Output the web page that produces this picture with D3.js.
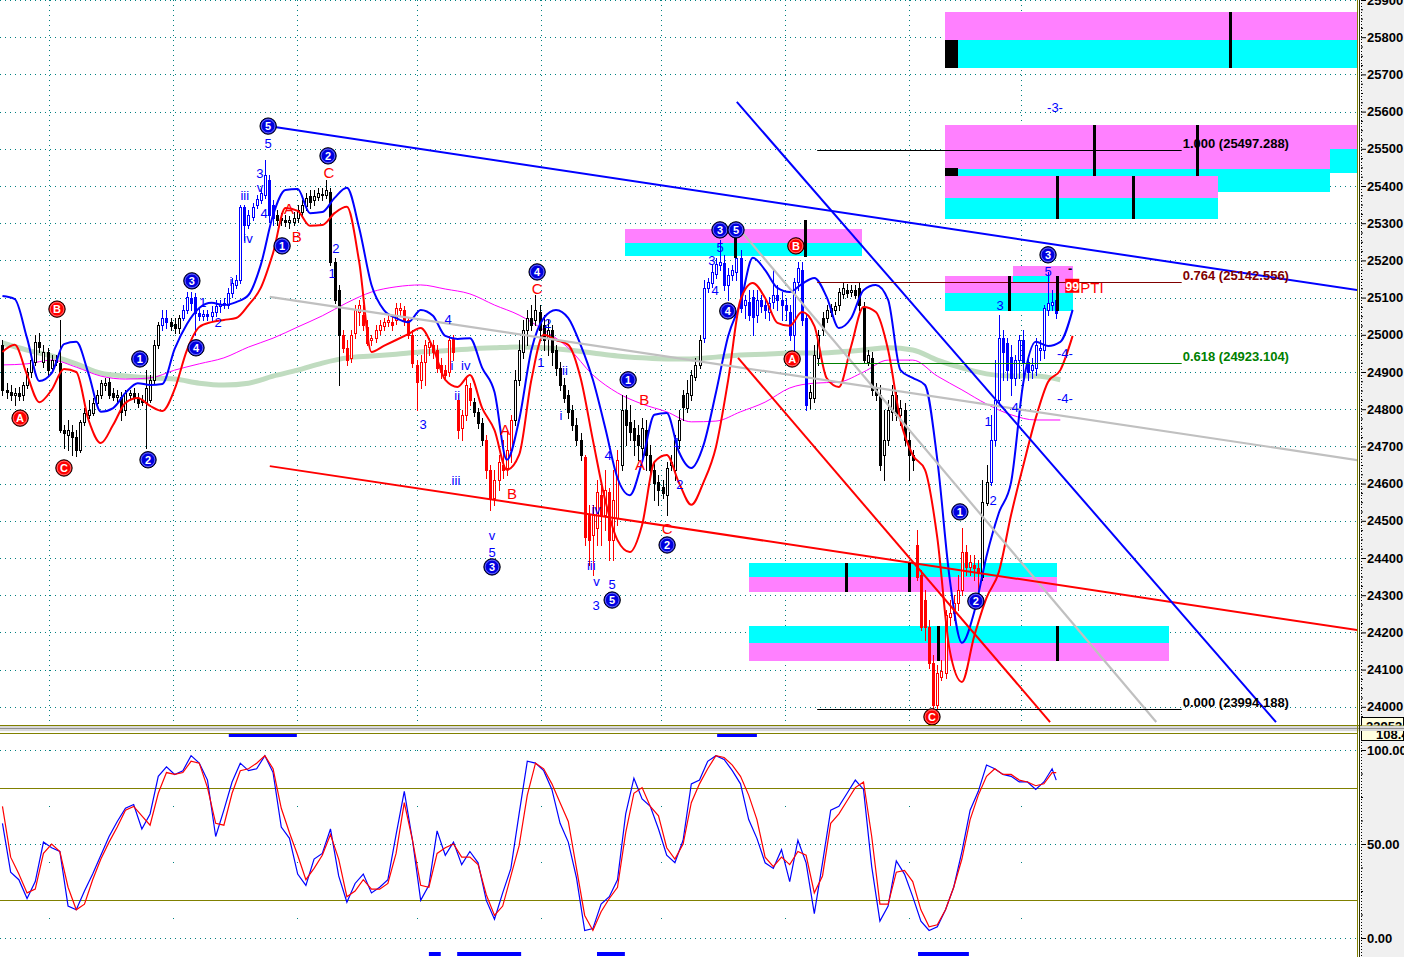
<!DOCTYPE html>
<html><head><meta charset="utf-8">
<script src="https://cdn.jsdelivr.net/npm/d3@7/dist/d3.min.js"></script>
<style>html,body{margin:0;padding:0;background:#fff;overflow:hidden}svg{display:block}</style>
</head><body><svg id="chart" width="1404" height="957"></svg>
<script>
// ---------- DATA ----------
const openP=[24973,24852,24846,24838,24844,24838,24865,24900,24927,24981,
24927,24954,24911,24932,24924,24744,24731,24739,24725,24690,
24766,24785,24790,24817,24838,24865,24873,24844,24833,24833,
24798,24838,24844,24830,24825,24819,24825,24879,24973,25026,
25045,25034,25029,25018,25045,25066,25099,25102,25059,25051,
25056,25051,25061,25077,25083,25080,25112,25134,25147,25344,
25295,25317,25349,25362,25376,25416,25349,25322,25314,25309,
25303,25303,25314,25330,25346,25373,25362,25370,25378,25376,
25384,25196,25120,25000,24965,24938,25005,25061,25053,25021,
24986,24991,25013,25024,25034,25034,25040,25066,25066,25040,
25000,24919,24879,24927,24967,24973,24959,24919,24905,24900,
24991,24825,24750,24785,24857,24819,24793,24763,24717,24636,
24561,24610,24650,24642,24690,24771,24879,24954,25013,25045,
25040,25061,25026,24991,25013,24959,24911,24865,24838,24798,
24758,24717,24672,24516,24462,24481,24570,24516,24578,24448,
24508,24650,24798,24766,24750,24731,24696,24744,24677,24636,
24604,24591,24570,24650,24636,24717,24838,24803,24838,24887,
24919,24991,25126,25139,25163,25188,25193,25134,25161,25169,
25207,25080,25088,25102,25053,25094,25080,25061,25088,25107,
25094,25080,25061,25000,25142,25174,25045,24830,24830,24938,
25045,25045,25061,25066,25080,25110,25120,25115,25120,25126,
25075,24927,24938,24857,24838,24677,24717,24793,24838,24785,
24798,24717,24677,24435,24354,24287,24215,24118,24005,24080,
24091,24242,24252,24279,24314,24416,24376,24381,24373,24349,
24548,24604,24717,24825,24991,24978,24940,24884,24932,24986,
24927,24905,24911,24959,24959,25066,25080,25094];
const highP=[24986,24870,24865,24857,24860,24873,24911,24946,25000,25005,
24973,24965,24946,24946,25040,24758,24771,24758,24744,24771,
24803,24825,24830,24852,24879,24884,24884,24857,24852,24846,
24852,24852,24857,24844,24838,24905,24892,24986,25034,25066,
25066,25045,25045,25053,25080,25115,25115,25112,25072,25066,
25066,25077,25094,25094,25099,25126,25153,25161,25349,25349,
25336,25354,25376,25395,25470,25430,25362,25336,25327,25322,
25319,25330,25349,25362,25381,25389,25389,25395,25395,25416,
25395,25207,25134,25013,24986,25013,25080,25094,25080,25040,
25000,25026,25040,25045,25053,25051,25086,25086,25077,25045,
25013,24932,24946,24986,24991,24986,24973,24938,24919,24997,
25000,24838,24798,24884,24870,24830,24803,24776,24731,24650,
24636,24677,24717,24744,24785,24905,24986,25040,25066,25080,
25107,25080,25053,25040,25026,24973,24927,24884,24852,24811,
24776,24736,24677,24543,24543,24610,24596,24636,24588,24636,
24690,24838,24838,24811,24771,24758,24776,24771,24704,24658,
24623,24610,24658,24677,24731,24798,24852,24879,24905,24938,
25000,25147,25153,25188,25207,25255,25215,25180,25188,25268,
25228,25107,25120,25120,25120,25107,25094,25102,25174,25134,
25115,25099,25080,25153,25196,25196,25053,24865,24973,25013,
25061,25080,25083,25088,25126,25139,25137,25134,25134,25139,
25088,24959,24954,24870,24865,24798,24825,24865,24852,24825,
24817,24739,24690,24475,24368,24314,24233,24139,24112,24126,
24260,24287,24301,24354,24481,24435,24408,24408,24395,24610,
24650,24785,24932,25053,25013,24991,24973,24946,25000,25013,
24946,24938,24991,24986,25080,25169,25120,25142];
const lowP=[24838,24830,24825,24811,24825,24825,24857,24887,24919,24954,
24913,24892,24900,24919,24739,24696,24690,24677,24674,24685,
24758,24776,24785,24811,24830,24852,24830,24825,24819,24771,
24785,24830,24819,24806,24811,24696,24819,24870,24965,25013,
25018,25013,25005,25005,25040,25059,25066,25000,25040,25040,
25040,25040,25051,25061,25072,25072,25102,25126,25139,25255,
25287,25309,25341,25354,25368,25303,25295,25295,25295,25293,
25287,25295,25303,25319,25336,25341,25349,25362,25362,25368,
25188,25086,24865,24954,24919,24927,24991,25026,25013,24973,
24973,24981,25002,25013,25024,25013,25029,25051,25026,24991,
24913,24798,24857,24865,24946,24938,24900,24884,24879,24889,
24932,24723,24717,24771,24811,24782,24750,24704,24615,24529,
24543,24583,24615,24623,24658,24758,24865,24938,24973,25013,
25026,24986,24959,24946,24919,24892,24852,24819,24776,24744,
24704,24664,24435,24381,24354,24435,24435,24475,24395,24395,
24489,24636,24704,24717,24677,24664,24664,24636,24623,24556,
24543,24561,24516,24636,24610,24696,24771,24793,24825,24879,
24911,24981,25115,25129,25153,25174,25120,25094,25147,25147,
25061,25045,25040,25000,25034,25061,25045,25040,25072,25066,
25040,25040,24986,24946,25120,25026,24798,24803,24819,24919,
25000,25034,25051,25056,25066,25099,25102,25104,25099,25066,
24927,24919,24838,24825,24636,24610,24704,24771,24771,24758,
24704,24610,24636,24341,24207,24180,24104,23994,23997,24072,
24078,24220,24233,24260,24301,24354,24354,24341,24314,24341,
24543,24596,24704,24811,24879,24879,24838,24865,24884,24865,
24879,24884,24892,24932,24938,25053,25066,25045];
const closeP=[24852,24846,24838,24844,24836,24865,24900,24932,24981,24967,
24954,24905,24932,24927,24744,24736,24744,24725,24690,24766,
24790,24798,24817,24838,24870,24870,24838,24833,24838,24793,
24844,24844,24830,24817,24819,24857,24879,24973,25026,25045,
25034,25024,25018,25045,25066,25102,25086,25059,25051,25056,
25051,25061,25077,25083,25086,25112,25139,25147,25344,25295,
25322,25344,25365,25381,25430,25322,25314,25309,25309,25303,
25309,25314,25336,25349,25368,25357,25373,25381,25376,25389,
25196,25094,25000,24965,24932,25000,25066,25080,25026,24978,
24991,25013,25026,25034,25040,25026,25072,25072,25040,25000,
24924,24873,24927,24973,24981,24954,24911,24900,24892,24986,
24954,24744,24785,24865,24825,24793,24763,24717,24636,24561,
24610,24658,24636,24690,24771,24879,24959,25013,25045,25026,
25066,25013,24986,25013,24954,24911,24865,24830,24793,24758,
24717,24677,24457,24448,24516,24578,24516,24583,24448,24556,
24664,24798,24758,24739,24717,24704,24750,24677,24636,24602,
24583,24575,24642,24658,24717,24771,24806,24844,24892,24919,
24986,25126,25142,25169,25190,25196,25134,25161,25174,25207,
25072,25094,25053,25048,25094,25077,25066,25086,25107,25094,
25080,25066,25000,25142,25180,25040,24811,24846,24946,25000,
25013,25066,25072,25077,25115,25126,25112,25120,25107,25080,
24932,24946,24852,24838,24650,24717,24798,24838,24785,24803,
24717,24677,24664,24349,24215,24215,24118,24005,24091,24096,
24247,24252,24279,24314,24416,24376,24389,24373,24362,24551,
24604,24717,24825,24991,24954,24905,24884,24932,24986,24924,
24900,24919,24973,24965,25072,25086,25088,25059];

// upper / lower bands, sampled every 3 bars (bar 0..261)
const blueBand=[25104,25096,24991,24876,24897,24975,24981,24895,24793,24803,
24844,24870,24865,24868,24962,25029,25072,25086,25080,25088,
25107,25188,25322,25389,25392,25327,25330,25368,25395,25287,
25134,25067,25045,25034,25067,25051,24997,24989,24991,24911,
24846,24664,24771,24959,25045,25067,25045,24973,24879,24750,
24615,24569,24658,24785,24790,24685,24642,24704,24844,24997,
25086,25207,25174,25126,25115,25137,25153,25102,25018,25045,
25120,25134,25094,24905,24884,24865,24664,24346,24172,24255,
24405,24521,24604,24873,24981,24970,24981,25067];
const redBand=[24954,24973,24892,24819,24852,24908,24900,24771,24709,24758,
24817,24830,24809,24795,24854,24959,25021,25034,25040,25045,
25080,25126,25220,25341,25333,25293,25295,25327,25344,25196,
24954,24970,24986,25002,25018,24965,24879,24860,24892,24803,
24744,24637,24677,24879,25000,24986,24973,24884,24717,24556,
24448,24416,24489,24658,24677,24602,24543,24604,24698,24879,
25094,25139,25099,25032,25024,25061,25024,24884,24860,24970,
25075,25061,24959,24771,24677,24637,24454,24153,24067,24190,
24293,24362,24516,24650,24776,24873,24905,24997];
// moving averages, sampled every 6 bars (bar 0..258)
const pinkMA=[24919,24922,24932,24913,24889,24881,24884,24905,24922,24938,
24967,24991,25021,25051,25086,25115,25129,25134,25123,25110,
25080,25053,25013,24965,24892,24844,24814,24793,24766,24768,
24793,24819,24857,24870,24873,24900,24932,24932,24889,24852,
24814,24785,24771,24771];
const greenMA=[24978,24959,24943,24922,24897,24889,24884,24881,24870,24865,
24870,24889,24905,24924,24938,24943,24948,24954,24957,24962,
24965,24967,24965,24959,24951,24943,24938,24935,24935,24940,
24946,24948,24951,24951,24954,24959,24965,24959,24932,24911,
24895,24889,24889,24879];
// stochastic %K / %D, every 2 bars (0..256) + last bar
const stochK=[61,35,31,21,30,51,48,46,17,15,
25,34,44,54,62,69,71,58,66,86,
91,87,89,97,93,84,54,68,83,93,
89,90,97,88,59,53,34,28,42,45,
58,33,19,29,34,24,27,31,55,78,
52,20,28,57,44,51,39,46,40,20,
10,24,37,66,94,93,89,79,61,51,
32,4,5,18,22,31,66,85,74,70,
58,44,40,52,82,84,94,97,95,89,
82,63,53,40,37,47,30,52,40,13,
40,68,70,77,84,79,38,9,17,41,
34,22,9,4,6,15,27,46,68,78,
92,90,87,86,83,83,79,83,90,84];
const stochD=[70,43,34,24,26,45,50,46,27,15,
18,31,42,51,59,68,70,65,60,77,
88,87,88,94,93,80,61,60,77,89,
90,93,97,90,69,56,44,31,37,44,
55,42,22,25,31,26,26,29,45,72,
52,28,27,45,48,50,43,43,39,23,
12,17,33,49,76,93,90,82,72,62,
37,12,4,14,21,27,56,77,80,70,
65,48,42,50,72,82,90,97,96,92,
86,76,63,43,38,43,39,46,44,24,
33,61,66,73,80,83,54,18,18,35,
36,30,15,6,7,15,27,42,63,76,
86,90,87,87,84,83,81,82,88,88];

const priceTicks=d3.range(24000,25901,100);
const stochTicks=[0,50,100];
const gridBars=[11.3,41.6,71.8,101.1,131.3,160.6,190.9,221.1,248.4];

const fibRatios=["1.000","0.764","0.618","0.000"];
const fibPrices=[25497.288,25142.556,24923.104,23994.188];
const fibSpan=[198.7,287.6];

// trend lines: [bar1, price1, bar2, price2]
const trendBlue=[[64.8,25561,330.6,25120],[179.1,25626,310.6,23959]];
const trendGray=[[65.2,25102,330.6,24663],[179.9,25282,281.4,23959]];
const trendRed=[[65.2,24647,330.6,24206],[179.4,24938,255.5,23959]];

// zones: [bar1, bar2, priceTop, priceBottom, kind]
const zones=[
 [229.9,330.6,25868,25792,"p"],[229.9,330.6,25792,25717,"c"],[229.9,233.0,25792,25717,"k"],
 [229.9,330.6,25564,25446,"p"],[323.8,330.6,25499,25435,"c"],[229.9,323.8,25446,25384,"c"],
 [229.9,233.0,25449,25427,"k"],[229.9,296.5,25427,25368,"p"],[229.9,296.5,25368,25311,"c"],
 [151.8,209.6,25284,25247,"p"],[151.8,209.6,25247,25212,"c"],
 [229.9,261.1,25158,25112,"p"],[229.9,261.1,25112,25064,"c"],[246.5,261.1,25185,25158,"p"],[246.5,255.5,25158,25142,"c"],
 [182.1,257.2,24387,24349,"c"],[182.1,257.2,24349,24308,"p"],
 [182.1,284.5,24217,24172,"c"],[182.1,284.5,24172,24123,"p"]];
// black marker bars: [bar, priceTop, priceBottom]
const markerBars=[[299.4,25868,25717],[266.2,25564,25427],[291.3,25564,25427],[257.2,25427,25311],[275.7,25427,25311],
 [178.7,25287,25207],[195.7,25309,25209],[245.5,25158,25064],[257.2,25158,25064],
 [205.7,24387,24308],[221.1,24387,24308],[228.2,24217,24123],[257.2,24217,24123]];

// wave labels: [bar, price, text, kind]  kind: B blue circle, R red circle, b blue text, r red text
const waveLabels=[
 [4.3,24776,"A","R"],[13.3,25069,"B","R"],[15.0,24642,"C","R"],[192.6,24935,"A","R"],[193.5,25239,"B","R"],[226.7,23973,"C","R"],
 [33.5,24935,"1","B"],[35.5,24664,"2","B"],[46.2,25145,"3","B"],[47.2,24965,"4","B"],[64.8,25561,"5","B"],[68.2,25239,"1","B"],
 [79.4,25481,"2","B"],[130.4,25169,"4","B"],[119.4,24376,"3","B"],[148.7,24287,"5","B"],[152.6,24879,"1","B"],[162.1,24435,"2","B"],
 [175.0,25282,"3","B"],[178.9,25282,"5","B"],[176.9,25064,"4","B"],[233.5,24524,"1","B"],[237.4,24284,"2","B"],[255.0,25215,"3","B"],
 [48.9,25088,"1","b"],[52.6,25034,"2","b"],[55.7,25145,"i","b"],[59.1,25376,"iii","b"],[59.9,25260,"iv","b"],[62.8,25397,"v","b"],
 [62.8,25435,"3","b"],[63.8,25327,"4","b"],[64.8,25516,"5","b"],[81.3,25233,"2","b"],[80.4,25166,"1","b"],[108.7,25042,"4","b"],
 [102.6,24760,"3","b"],[109.6,24919,"i","b"],[113.0,24919,"iv","b"],[110.9,24836,"ii","b"],[110.6,24610,"iii","b"],[119.4,24460,"v","b"],
 [119.4,24414,"5","b"],[131.3,24927,"1","b"],[133.0,25032,"2","b"],[137.2,24905,"ii","b"],[136.2,24784,"i","b"],[144.8,24532,"iv","b"],
 [143.6,24380,"iii","b"],[144.9,24336,"v","b"],[144.8,24274,"3","b"],[148.7,24330,"5","b"],[147.7,24677,"4","b"],[164.5,24712,"1","b"],
 [165.2,24599,"2","b"],[173.0,25201,"3","b"],[175.0,25236,"5","b"],[173.8,25120,"4","b"],[240.4,24768,"1","b"],[241.6,24556,"2","b"],
 [243.3,25080,"3","b"],[247.0,24806,"4","b"],[255.0,25171,"5","b"],[259.1,24951,"-4-","b"],[259.1,24830,"-4-","b"],[256.7,25612,"-3-","b"],
 [69.9,25338,"A","r"],[71.8,25263,"B","r"],[79.6,25437,"C","r"],[122.6,24744,"A","r"],[124.3,24572,"B","r"],[130.4,25123,"C","r"],
 [156.5,24825,"B","r"],[155.5,24650,"A","r"],[162.1,24478,"C","r"]];

const stochTopSignals=[[55.2,71.8],[174.3,184.0]];
const stochBottomSignals=[[104.0,106.9],[110.9,126.5],[145.0,151.8],[223.3,235.7]];

// ---------- DRAW ----------
const FONT='"Liberation Sans",Arial,sans-serif';
const NARROW='"Liberation Sans Narrow","Arial Narrow","Liberation Sans",sans-serif';
const svg=d3.select("#chart");
const x=d3.scaleLinear().domain([-0.6,330.6]).range([0,1358]);
const y=d3.scaleLinear().domain([25900,24000]).range([0,706.8]);
const ys=d3.scaleLinear().domain([0,100]).range([938,750]);
const px=v=>Math.round(v)+0.5;

const defs=svg.append("defs");
defs.append("clipPath").attr("id","cm").append("rect").attr("x",0).attr("y",0).attr("width",1357).attr("height",725);
defs.append("clipPath").attr("id","cs").append("rect").attr("x",0).attr("y",734).attr("width",1357).attr("height",223);
defs.append("clipPath").attr("id","cl1").append("rect").attr("x",1361).attr("y",716).attr("width",43).attr("height",9.5);
defs.append("clipPath").attr("id","cl2").append("rect").attr("x",1361).attr("y",731).attr("width",43).attr("height",10);

svg.append("rect").attr("width",1404).attr("height",957).attr("fill","#fff");
svg.append("rect").attr("x",1361).attr("y",0).attr("width",43).attr("height",957).attr("fill","#f0f0f0");

// ---- main panel ----
const g=svg.append("g").attr("clip-path","url(#cm)");
g.selectAll(".hg").data(priceTicks).join("line").attr("x1",0).attr("x2",1357)
 .attr("y1",d=>px(y(d))).attr("y2",d=>px(y(d))).attr("stroke","#008080").attr("stroke-dasharray","1,4");
g.selectAll(".vg").data(gridBars).join("line").attr("x1",d=>px(x(d))).attr("x2",d=>px(x(d)))
 .attr("y1",0).attr("y2",725).attr("stroke","#008080").attr("stroke-dasharray","1,4");

const zoneFill={p:"#ff80ff",c:"#00ffff",k:"#000000"};
g.selectAll(".zone").data(zones).join("rect")
 .attr("x",d=>Math.round(x(d[0]))).attr("width",d=>Math.round(x(d[1]))-Math.round(x(d[0])))
 .attr("y",d=>Math.round(y(d[2]))).attr("height",d=>Math.round(y(d[3]))-Math.round(y(d[2])))
 .attr("fill",d=>zoneFill[d[4]]);

const maBars=d3.range(0,259,6), bandBars=d3.range(0,262,3), stochBars=d3.range(0,257,2).concat([257]);
const mkLine=(bs,sc,curve)=>d3.line().x((d,k)=>x(bs[k])).y(d=>sc(d)).curve(curve||d3.curveMonotoneX);
g.append("path").attr("d",mkLine(maBars,y)(greenMA)).attr("fill","none").attr("stroke","#c0dcc0").attr("stroke-width",5);
g.append("path").attr("d",mkLine(maBars,y)(pinkMA)).attr("fill","none").attr("stroke","#ff00ff").attr("stroke-width",1);

// candles
const colorRanges=[[0,38,"#000"],[39,40,"#0000ff"],[41,43,"#000"],[44,66,"#0000ff"],[67,82,"#000"],[83,114,"#ff0000"],
 [115,117,"#000"],[118,124,"#ff0000"],[125,141,"#000"],[142,150,"#ff0000"],[151,170,"#000"],[171,196,"#0000ff"],
 [197,222,"#000"],[223,238,"#ff0000"],[239,240,"#000"],[241,257,"#0000ff"]];
const colorOf=i=>colorRanges.find(r=>i>=r[0]&&i<=r[1])[2];
const bars=closeP.map((c,i)=>({i,o:openP[i],h:highP[i],l:lowP[i],c}));
const cg=g.append("g");
cg.selectAll(".wick").data(bars).join("line")
 .attr("x1",d=>Math.round(x(d.i))+0.5).attr("x2",d=>Math.round(x(d.i))+0.5)
 .attr("y1",d=>Math.round(y(d.h))).attr("y2",d=>Math.round(y(d.l))+1).attr("stroke",d=>colorOf(d.i));
cg.selectAll(".body").data(bars).join("rect")
 .attr("x",d=>Math.round(x(d.i))-0.5).attr("width",2)
 .attr("y",d=>Math.round(y(Math.max(d.o,d.c)))+0.5)
 .attr("height",d=>Math.max(1,Math.round(y(Math.min(d.o,d.c)))-Math.round(y(Math.max(d.o,d.c)))))
 .attr("fill",d=>d.c>=d.o?"#fff":colorOf(d.i)).attr("stroke",d=>colorOf(d.i));

// bands
g.append("path").attr("d",mkLine(bandBars,y)(blueBand)).attr("fill","none").attr("stroke","#0000ff").attr("stroke-width",2);
g.append("path").attr("d",mkLine(bandBars,y)(redBand)).attr("fill","none").attr("stroke","#ff0000").attr("stroke-width",2);

// trend lines
const drawTrend=(arr,col,w)=>g.selectAll(null).data(arr).join("line")
 .attr("x1",d=>x(d[0])).attr("y1",d=>y(d[1])).attr("x2",d=>x(d[2])).attr("y2",d=>y(d[3]))
 .attr("stroke",col).attr("stroke-width",w);
drawTrend(trendGray,"#c0c0c0",2.2);
drawTrend(trendRed,"#ff0000",2);
drawTrend(trendBlue,"#0000ff",2);

// fib
const fibColors=["#000","#800000","#008000","#000"];
fibPrices.forEach((p,k)=>{
  g.append("line").attr("x1",x(fibSpan[0])).attr("x2",x(fibSpan[1])).attr("y1",px(y(p))).attr("y2",px(y(p)))
   .attr("stroke",fibColors[k]).attr("stroke-width",1);
  g.append("text").attr("x",x(fibSpan[1])+1).attr("y",y(p)-2).attr("font-family",NARROW).attr("font-weight","bold")
   .attr("font-size",13).attr("fill",fibColors[k]).text(fibRatios[k]+" ("+p.toFixed(3)+")");
});

// marker bars
g.selectAll(".mb").data(markerBars).join("rect")
 .attr("x",d=>Math.round(x(d[0]))-1).attr("width",3)
 .attr("y",d=>Math.round(y(d[1]))).attr("height",d=>Math.round(y(d[2]))-Math.round(y(d[1])))
 .attr("fill","#000");

// 99PTI
const ptiY=y(fibPrices[1]);
g.append("rect").attr("x",x(259.2)).attr("y",ptiY-3).attr("width",14).attr("height",14).attr("fill","#ff0000");
g.append("text").attr("x",x(259.2)+7).attr("y",ptiY+9).attr("text-anchor","middle").attr("font-family",FONT)
 .attr("font-weight","bold").attr("font-size",12).attr("fill","#fff").text("99");
g.append("text").attr("x",x(259.2)+15).attr("y",ptiY+11).attr("font-family",FONT).attr("font-size",15).attr("fill","#ff0000").text("PTI");
g.append("text").attr("x",x(260.4)).attr("y",y(25174)+3).attr("text-anchor","middle").attr("font-family",FONT)
 .attr("font-weight","bold").attr("font-size",13).attr("fill","#000").text("-");

// wave labels
const wl=g.append("g");
waveLabels.forEach(d=>{
  const cx=x(d[0]), cy=y(d[1]);
  if(d[3]==="B"||d[3]==="R"){
    wl.append("circle").attr("cx",cx).attr("cy",cy).attr("r",8.2).attr("fill",d[3]==="B"?"#0000e0":"#ff0000").attr("stroke","#000").attr("stroke-width",1);
    wl.append("circle").attr("cx",cx).attr("cy",cy).attr("r",6.8).attr("fill","none").attr("stroke","#fff").attr("stroke-width",0.7).attr("opacity",0.6);
    wl.append("text").attr("x",cx).attr("y",cy).attr("dy","0.36em").attr("text-anchor","middle").attr("font-family",FONT)
      .attr("font-weight","bold").attr("font-size",11).attr("fill","#fff").text(d[2]);
  } else {
    wl.append("text").attr("x",cx).attr("y",cy).attr("dy","0.36em").attr("text-anchor","middle").attr("font-family",FONT)
      .attr("font-size",d[3]==="r"?15:13).attr("fill",d[3]==="r"?"#ff0000":"#0000ff").text(d[2]);
  }
});

// ---- separator ----
svg.append("line").attr("x1",0).attr("x2",1404).attr("y1",725.5).attr("y2",725.5).attr("stroke","#808000");
svg.append("g").attr("clip-path","url(#cl1)").call(s=>{
  s.append("rect").attr("x",1361.5).attr("y",717.5).attr("width",42).attr("height",12).attr("fill","#ffffe0").attr("stroke","#000");
  s.append("text").attr("x",1366).attr("y",731).attr("font-family",FONT).attr("font-weight","bold").attr("font-size",13).text("23953");
});
svg.append("rect").attr("x",0).attr("y",726).attr("width",1404).attr("height",6).attr("fill","#d8d8d8");
svg.append("line").attr("x1",0).attr("x2",1404).attr("y1",728.5).attr("y2",728.5).attr("stroke","#909090");
svg.append("line").attr("x1",0).attr("x2",1404).attr("y1",731.5).attr("y2",731.5).attr("stroke","#f8f8f8");
svg.append("line").attr("x1",0).attr("x2",1357).attr("y1",733.5).attr("y2",733.5).attr("stroke","#808000");
svg.append("g").attr("clip-path","url(#cl2)").call(s=>{
  s.append("rect").attr("x",1361.5).attr("y",730.5).attr("width",42).attr("height",10).attr("fill","#ffffe0").attr("stroke","#000");
  s.append("text").attr("x",1376).attr("y",739).attr("font-family",FONT).attr("font-weight","bold").attr("font-size",13).text("108.4");
});

// ---- stochastic panel ----
const sg=svg.append("g").attr("clip-path","url(#cs)");
sg.selectAll(".shg").data(stochTicks).join("line").attr("x1",0).attr("x2",1357)
 .attr("y1",d=>px(ys(d))).attr("y2",d=>px(ys(d))).attr("stroke","#008080").attr("stroke-dasharray","1,4");
sg.selectAll(".svg").data(gridBars).join("line").attr("x1",d=>px(x(d))).attr("x2",d=>px(x(d)))
 .attr("y1",734).attr("y2",957).attr("stroke","#008080").attr("stroke-dasharray","1,55").attr("stroke-dashoffset",-16);
sg.selectAll(".lvl").data([80,20]).join("line").attr("x1",0).attr("x2",1357)
 .attr("y1",d=>px(ys(d))).attr("y2",d=>px(ys(d))).attr("stroke","#808000").attr("stroke-width",1.2);
sg.append("path").attr("d",mkLine(stochBars,ys,d3.curveLinear)(stochK)).attr("fill","none").attr("stroke","#0000ff").attr("stroke-width",1.2);
sg.append("path").attr("d",mkLine(stochBars,ys,d3.curveLinear)(stochD)).attr("fill","none").attr("stroke","#ff0000").attr("stroke-width",1.2);
sg.selectAll(".sst").data(stochTopSignals).join("rect").attr("x",d=>x(d[0])).attr("width",d=>x(d[1])-x(d[0]))
 .attr("y",734).attr("height",3).attr("fill","#0000ff");
sg.selectAll(".ssb").data(stochBottomSignals).join("rect").attr("x",d=>x(d[0])).attr("width",d=>x(d[1])-x(d[0]))
 .attr("y",952).attr("height",4).attr("fill","#0000ff");

// ---- axes ----
svg.append("line").attr("x1",1357.5).attr("x2",1357.5).attr("y1",0).attr("y2",957).attr("stroke","#808000");
svg.append("line").attr("x1",1359.5).attr("x2",1359.5).attr("y1",0).attr("y2",957).attr("stroke","#303000");
svg.append("line").attr("x1",1361.5).attr("x2",1361.5).attr("y1",0).attr("y2",724).attr("stroke","#000").attr("stroke-dasharray","1,2");
svg.append("line").attr("x1",1361.5).attr("x2",1361.5).attr("y1",742).attr("y2",957).attr("stroke","#000").attr("stroke-dasharray","1,2");

const styleAxis=a=>{a.select(".domain").remove();a.selectAll("line").attr("stroke","#000");
  a.selectAll("text").attr("font-family",FONT).attr("font-weight","bold").attr("font-size",13).attr("fill","#000");};
const ay=svg.append("g").attr("transform","translate(1361,0)")
 .call(d3.axisRight(y).tickValues(priceTicks).tickSize(5).tickPadding(1).tickFormat(d3.format("d")));
styleAxis(ay);
const ayMinor=svg.append("g").attr("transform","translate(1361,0)")
 .call(d3.axisRight(y).tickValues(d3.range(23975,25901,25).filter(v=>v%100!==0)).tickSize(2).tickFormat(""));
styleAxis(ayMinor);
const as=svg.append("g").attr("transform","translate(1361,0)")
 .call(d3.axisRight(ys).tickValues(stochTicks).tickSize(5).tickPadding(1).tickFormat(d3.format(".2f")));
styleAxis(as);
const asMinor=svg.append("g").attr("transform","translate(1361,0)")
 .call(d3.axisRight(ys).tickValues([12.5,25,37.5,62.5,75,87.5]).tickSize(2).tickFormat(""));
styleAxis(asMinor);
</script></body></html>
